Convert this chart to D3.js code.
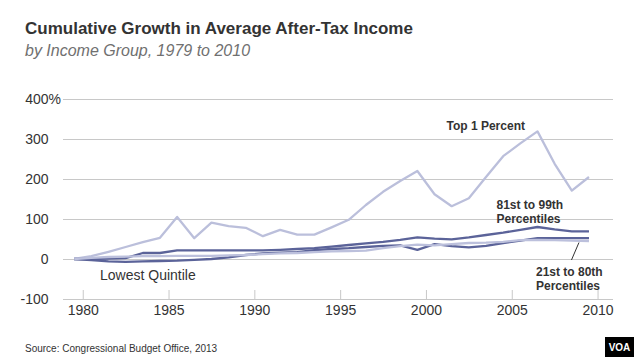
<!DOCTYPE html>
<html>
<head>
<meta charset="utf-8">
<script src="https://cdn.jsdelivr.net/npm/d3@7"></script>
<style>
  html, body { margin: 0; padding: 0; background: #fff; }
  svg { display: block; font-family: "Liberation Sans", Arial, sans-serif; }
</style>
</head>
<body>
<svg id="chart" width="640" height="360"></svg>
<script>
// ---- data ----
const years = [1980,1981,1982,1983,1984,1985,1986,1987,1988,1989,1990,1991,1992,1993,1994,1995,
               1996,1997,1998,1999,2000,2001,2002,2003,2004,2005,2006,2007,2008,2009,2010];
const top1      = [0,7,18,30,42,53,105,52,91,82,78,57,73,61,61,79,98,135,168,195,220,162,132,152,205,257,289,319,238,171,205];
const p81to99   = [0,0,1,2,15,15,21.5,21.5,21.5,21.5,21.5,21.5,23,25,27,31,35,39,43,48,54,51,49,54,60,66,73,80,74,69,69];
const lowestQ   = [0,-3,-6,-7,-6,-5,-4,-2,0,4,10,14,16,17,22,25,27,30,33,34,23,37,32,29,33,40,46,52,52,52,52];
const p21to80   = [0,3,5,6,7,7,8,8,8,9,10,12,14,15,17,19,20,21,27,32,36,34,37,40,41,43,47,48,47,46,45];
const yTicks = [-100, 0, 100, 200, 300, 400];
const xTicks = [1980, 1985, 1990, 1995, 2000, 2005, 2010];

const seriesList = [
  { name: "Top 1 Percent", values: top1, color: "#bbbfdb" },
  { name: "Lowest Quintile", values: lowestQ, color: "#5b6399" },
  { name: "81st to 99th Percentiles", values: p81to99, color: "#5b6399" },
  { name: "21st to 80th Percentiles", values: p21to80, color: "#bcc0dc" }
];

const svg = d3.select("#chart");
const textCol = "#333333";

// ---- scales ----
const plotL = 63, plotR = 613, plotT = 99, plotB = 299;
const x = d3.scaleLinear().domain([1978.85, 2010.9]).range([plotL, plotR]);
const y = d3.scaleLinear().domain([-100, 400]).range([plotB, plotT]);

// ---- title ----
svg.append("text").attr("x", 25).attr("y", 34)
  .attr("font-size", 17).attr("font-weight", "bold").attr("fill", "#333")
  .text("Cumulative Growth in Average After-Tax Income");
svg.append("text").attr("x", 25).attr("y", 56)
  .attr("font-size", 16).attr("font-style", "italic").attr("fill", "#707070")
  .text("by Income Group, 1979 to 2010");

// ---- y axis / gridlines ----
const yAxis = svg.append("g").attr("transform", `translate(${plotL},0)`)
  .call(d3.axisLeft(y).tickValues(yTicks).tickSize(-(plotR - plotL)).tickPadding(14.5).tickFormat(d => d));
yAxis.select(".domain").remove();
yAxis.selectAll(".tick line").attr("stroke", "#c8c8c8").attr("stroke-width", 1);
yAxis.selectAll(".tick text").attr("font-size", 14).attr("fill", textCol)
  .attr("font-family", "Liberation Sans, Arial, sans-serif");
yAxis.selectAll(".tick").filter(d => d === 400).append("text")
  .attr("x", -14.5).attr("dy", "0.32em").attr("text-anchor", "start")
  .attr("font-size", 14).attr("fill", textCol)
  .attr("font-family", "Liberation Sans, Arial, sans-serif")
  .text("%");

// ---- x axis ----
const xAxis = svg.append("g").attr("transform", `translate(0,${plotB})`)
  .call(d3.axisBottom(x).tickValues(xTicks).tickSizeInner(-9).tickSizeOuter(0).tickPadding(6.5).tickFormat(d3.format("d")));
xAxis.select(".domain").remove();
xAxis.selectAll(".tick line").attr("stroke", "#c8c8c8");
xAxis.selectAll(".tick text").attr("font-size", 14).attr("fill", textCol)
  .attr("font-family", "Liberation Sans, Arial, sans-serif");

// ---- lines (each year's value drawn at the middle of its year interval) ----
const line = d3.line().x((d, i) => x(years[i] - 0.5)).y(d => y(d));
svg.append("g").selectAll("path").data(seriesList).join("path")
  .attr("d", s => line(s.values))
  .attr("fill", "none")
  .attr("stroke", s => s.color)
  .attr("stroke-width", 2.3)
  .attr("stroke-linejoin", "round");

// ---- labels ----
const lab = svg.append("g").attr("fill", textCol);
lab.append("text").attr("x", 446.5).attr("y", 129.5).attr("font-size", 12).attr("font-weight", "bold")
  .text("Top 1 Percent");
lab.append("text").attr("x", 496.5).attr("y", 209).attr("font-size", 12).attr("font-weight", "bold")
  .text("81st to 99th");
lab.append("text").attr("x", 496.5).attr("y", 222.5).attr("font-size", 12).attr("font-weight", "bold")
  .text("Percentiles");
lab.append("text").attr("x", 536).attr("y", 275.5).attr("font-size", 12).attr("font-weight", "bold")
  .text("21st to 80th");
lab.append("text").attr("x", 536).attr("y", 289.5).attr("font-size", 12).attr("font-weight", "bold")
  .text("Percentiles");
lab.append("text").attr("x", 100).attr("y", 280).attr("font-size", 14)
  .text("Lowest Quintile");
svg.append("line").attr("x1", x(2009.5) - 10).attr("y1", y(p21to80[30]) + 1.5)
  .attr("x2", x(2009.5) - 17.5).attr("y2", 260)
  .attr("stroke", "#333").attr("stroke-width", 1);

// ---- source & logo ----
svg.append("text").attr("x", 25).attr("y", 351.5).attr("font-size", 10).attr("fill", textCol)
  .text("Source: Congressional Budget Office, 2013");
svg.append("rect").attr("x", 605).attr("y", 337).attr("width", 29).attr("height", 20).attr("fill", "#000");
svg.append("text").attr("x", 619.5).attr("y", 351).attr("text-anchor", "middle")
  .attr("font-size", 10).attr("font-weight", "bold").attr("fill", "#fff").text("VOA");
</script>
</body>
</html>
